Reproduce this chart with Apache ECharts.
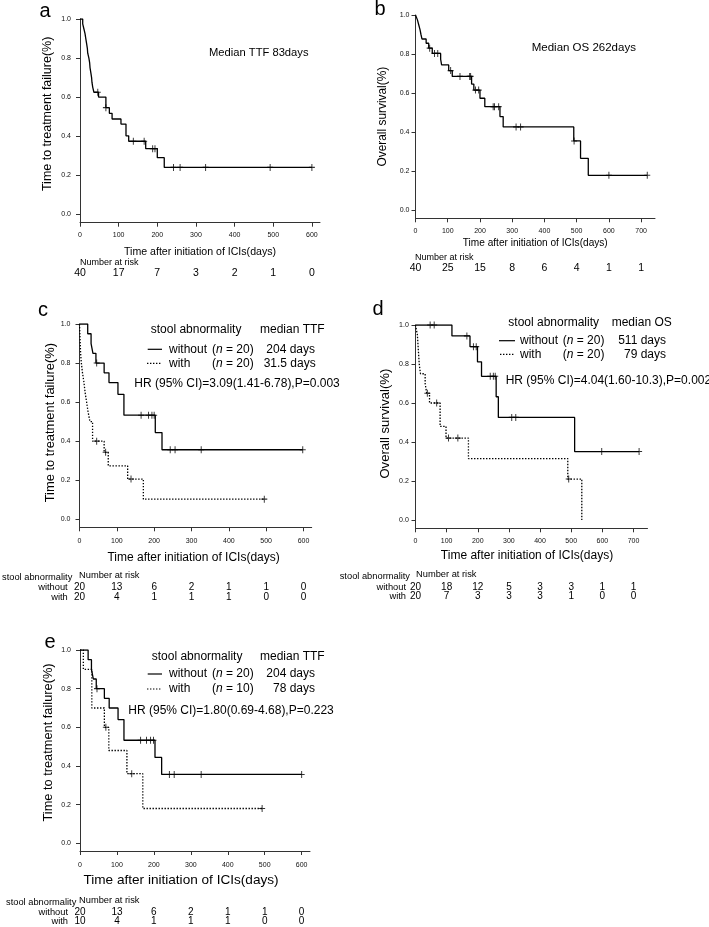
<!DOCTYPE html>
<html><head><meta charset="utf-8">
<script src="https://cdn.jsdelivr.net/npm/echarts@6/dist/echarts.min.js"></script>
<style>html,body{margin:0;padding:0;background:#fff}#c{width:709px;height:927px}</style>
</head><body><div id="c"></div><script>
// ---------- DATA ----------
const yTicks = [0, 0.2, 0.4, 0.6, 0.8, 1.0];
const xTicks600 = [0, 100, 200, 300, 400, 500, 600];
const xTicks700 = [0, 100, 200, 300, 400, 500, 600, 700];

// a: time to treatment failure (all)
const aTime = [0, 7, 10, 13, 15, 17, 19, 20, 23, 25, 26, 28, 30, 31, 33, 36, 48, 67, 76, 83, 106, 119, 126, 170, 200, 218];
const aSurv = [1, 0.975, 0.95, 0.925, 0.9, 0.875, 0.85, 0.825, 0.8, 0.775, 0.75, 0.725, 0.7, 0.675, 0.65, 0.625, 0.6, 0.546, 0.517, 0.488, 0.462, 0.402, 0.374, 0.336, 0.29, 0.24];
const aCens = [46, 67, 138, 166, 188, 194, 242, 259, 325, 492, 600];
const aRisk = [40, 17, 7, 3, 2, 1, 0];

// b: overall survival (all)
const bTime = [0, 6, 10, 14, 17, 20, 33, 41, 52, 78, 81, 103, 114, 174, 181, 200, 215, 262, 272, 491, 512, 536];
const bSurv = [1, 0.975, 0.95, 0.925, 0.9, 0.877, 0.855, 0.83, 0.803, 0.773, 0.744, 0.715, 0.685, 0.646, 0.615, 0.573, 0.53, 0.479, 0.426, 0.354, 0.265, 0.178];
const bCens = [44, 59, 69, 109, 138, 168, 171, 186, 196, 241, 245, 258, 312, 326, 492, 600, 719];
const bRisk = [40, 25, 15, 8, 6, 4, 1, 1];

// c: TTF by stool abnormality
const cWoTime = [0, 22, 31, 36, 44, 66, 79, 103, 119, 203, 221];
const cWoSurv = [1, 0.95, 0.9, 0.85, 0.8, 0.75, 0.7, 0.64, 0.533, 0.444, 0.356];
const cWoCens = [46, 165, 185, 194, 200, 243, 256, 326, 598];
const cWiTime = [0, 1, 2, 3, 5, 8, 12, 15, 19, 23, 28, 35, 66, 77, 129, 171];
const cWiSurv = [1, 0.95, 0.9, 0.85, 0.8, 0.75, 0.7, 0.65, 0.6, 0.55, 0.5, 0.4, 0.343, 0.274, 0.206, 0.103];
const cWiCens = [46, 70, 138, 495];
const cRiskWo = [20, 13, 6, 2, 1, 1, 0];
const cRiskWi = [20, 4, 1, 1, 1, 0, 0];

// d: OS by stool abnormality
const dWoTime = [0, 117, 175, 199, 212, 259, 266, 511];
const dWoSurv = [1, 0.944, 0.889, 0.811, 0.737, 0.632, 0.526, 0.351];
const dWoCens = [47, 60, 165, 186, 195, 240, 250, 256, 309, 322, 598, 718];
const dWiTime = [0, 6, 8, 10, 12, 16, 31, 36, 45, 79, 98, 170, 489, 534];
const dWiSurv = [1, 0.95, 0.9, 0.85, 0.8, 0.75, 0.7, 0.65, 0.6, 0.48, 0.42, 0.315, 0.21, 0];
const dWiCens = [38, 68, 106, 136, 492];
const dRiskWo = [20, 18, 12, 5, 3, 3, 1, 1];
const dRiskWi = [20, 7, 3, 3, 3, 1, 0, 0];

// e: TTF by stool abnormality (with n=10)
const eWoTime = [0, 22, 31, 36, 44, 66, 79, 103, 119, 203, 221];
const eWoSurv = [1, 0.95, 0.9, 0.85, 0.8, 0.75, 0.7, 0.64, 0.533, 0.444, 0.356];
const eWoCens = [46, 164, 180, 191, 199, 242, 255, 328, 600];
const eWiTime = [0, 9, 32, 66, 78, 127, 170];
const eWiSurv = [1, 0.9, 0.7, 0.6, 0.48, 0.36, 0.18];
const eWiCens = [70, 140, 493];
const eRiskWo = [20, 13, 6, 2, 1, 1, 0];
const eRiskWi = [10, 4, 1, 1, 1, 0, 0];

// ---------- BUILD ----------
const FONT = '"Liberation Sans", Arial, Helvetica, sans-serif';
const AX = '#333';

function stepData(times, surv, cens) {
  const d = times.map((t, i) => [t, surv[i]]);
  const lastT = times[times.length - 1], lastS = surv[surv.length - 1];
  const maxC = Math.max.apply(null, cens);
  if (maxC > lastT && lastS > 0) d.push([maxC, lastS]);
  return d;
}
function survAt(times, surv, t) {
  let s = surv[0];
  for (let i = 0; i < times.length; i++) if (times[i] <= t) s = surv[i];
  return s;
}

const panels = [
  { grid: {left: 80, top: 19, width: 240, height: 203.7}, yMin: -0.043, xMax: 621, xTicks: xTicks600,
    yName: 'Time to treatment failure(%)', yNameSize: 12.5, yGap: 26, yPad: [0, 0, 0, 14], yLabMargin: 9,
    xNameSize: 10.6, xGap: 23.7, xPad: [0, 0, 0, 0], xLabMargin: 9,
    riskSize: 10.5,
    curves: [{t: aTime, s: aSurv, c: aCens, dotted: false}],
    risk: [{vals: aRisk, offset: 45.3}] },
  { grid: {left: 415.5, top: 15, width: 239.5, height: 203.3}, yMin: -0.0426, xMax: 743, xTicks: xTicks700,
    yName: 'Overall survival(%)', yNameSize: 11.9, yGap: 26.5, yPad: [0, 0, 0, 0], yLabMargin: 6,
    xNameSize: 10.1, xGap: 20, xPad: [0, 0, 0, 0], xLabMargin: 9.6,
    riskSize: 10.5,
    curves: [{t: bTime, s: bSurv, c: bCens, dotted: false}],
    risk: [{vals: bRisk, offset: 44.7}] },
  { grid: {left: 79.5, top: 324, width: 232.2, height: 203.3}, yMin: -0.041, xMax: 622, xTicks: xTicks600,
    yName: 'Time to treatment failure(%)', yNameSize: 12.9, yGap: 23, yPad: [0, 0, 0, 6], yLabMargin: 9,
    xNameSize: 12, xGap: 24, xPad: [0, 4, 0, 0], xLabMargin: 10.6,
    riskSize: 10,
    curves: [{t: cWoTime, s: cWoSurv, c: cWoCens, dotted: false}, {t: cWiTime, s: cWiSurv, c: cWiCens, dotted: true}],
    risk: [{vals: cRiskWo, offset: 55}, {vals: cRiskWi, offset: 65}] },
  { grid: {left: 415.5, top: 325, width: 232, height: 203.3}, yMin: -0.0426, xMax: 745, xTicks: xTicks700,
    yName: 'Overall survival(%)', yNameSize: 13.1, yGap: 24, yPad: [0, 0, 0, 6], yLabMargin: 6.7,
    xNameSize: 12, xGap: 21.7, xPad: [0, 9, 0, 0], xLabMargin: 9.6,
    riskSize: 10,
    curves: [{t: dWoTime, s: dWoSurv, c: dWoCens, dotted: false}, {t: dWiTime, s: dWiSurv, c: dWiCens, dotted: true}],
    risk: [{vals: dRiskWo, offset: 54}, {vals: dRiskWi, offset: 63.4}] },
  { grid: {left: 80, top: 650, width: 230, height: 201}, yMin: -0.04, xMax: 622.6, xTicks: xTicks600,
    yName: 'Time to treatment failure(%)', yNameSize: 12.8, yGap: 25.5, yPad: [0, 0, 0, 16], yLabMargin: 9,
    xNameSize: 13.6, xGap: 22, xPad: [0, 28, 0, 0], xLabMargin: 10.2,
    riskSize: 10,
    curves: [{t: eWoTime, s: eWoSurv, c: eWoCens, dotted: false}, {t: eWiTime, s: eWiSurv, c: eWiCens, dotted: true}],
    risk: [{vals: eRiskWo, offset: 56.3}, {vals: eRiskWi, offset: 65.7}] }
];

const PLUS = 'path://M4.2,0H5.8V4.2H10V5.8H5.8V10H4.2V5.8H0V4.2H4.2Z';
const grid = [], xAxis = [], yAxis = [], series = [];

panels.forEach((p, gi) => {
  grid.push(Object.assign({containLabel: false}, p.grid));
  const mainX = xAxis.length;
  xAxis.push({
    gridIndex: gi, type: 'value', min: 0, max: p.xMax,
    name: 'Time after initiation of ICIs(days)', nameLocation: 'middle', nameGap: p.xGap,
    nameTextStyle: {fontFamily: FONT, fontSize: p.xNameSize, color: '#000', verticalAlign: 'top', padding: p.xPad},
    axisLine: {onZero: false, lineStyle: {color: AX, width: 1}},
    axisTick: {customValues: p.xTicks, length: 4, lineStyle: {color: AX, width: 1}},
    axisLabel: {customValues: p.xTicks, fontFamily: FONT, fontSize: 7, color: '#111', margin: p.xLabMargin},
    splitLine: {show: false}
  });
  p.risk.forEach(r => {
    xAxis.push({
      gridIndex: gi, type: 'value', min: 0, max: p.xMax, position: 'bottom', offset: r.offset,
      axisLine: {show: false, onZero: false}, axisTick: {show: false}, splitLine: {show: false},
      axisLabel: {customValues: p.xTicks, margin: 0, fontFamily: FONT, fontSize: p.riskSize, color: '#000', verticalAlign: 'top',
        formatter: v => String(r.vals[p.xTicks.indexOf(v)])}
    });
  });
  yAxis.push({
    gridIndex: gi, type: 'value', min: p.yMin, max: 1.0,
    name: p.yName, nameLocation: 'middle', nameGap: p.yGap, nameRotate: 90,
    nameTextStyle: {fontFamily: FONT, fontSize: p.yNameSize, color: '#000', padding: p.yPad},
    axisLine: {onZero: false, lineStyle: {color: AX, width: 1}},
    axisTick: {customValues: yTicks, length: 4, lineStyle: {color: AX, width: 1}},
    axisLabel: {customValues: yTicks, fontFamily: FONT, fontSize: 7, color: '#111', margin: p.yLabMargin,
      formatter: v => v.toFixed(1)},
    splitLine: {show: false}
  });
  p.curves.forEach(cv => {
    series.push({
      type: 'line', xAxisIndex: mainX, yAxisIndex: gi, step: 'end', showSymbol: false, silent: true,
      data: stepData(cv.t, cv.s, cv.c),
      lineStyle: {color: '#000', width: cv.dotted ? 1.3 : 1.3, type: cv.dotted ? [1.4, 1.6] : 'solid'},
      z: 3
    });
    series.push({
      type: 'scatter', xAxisIndex: mainX, yAxisIndex: gi, symbol: PLUS, symbolSize: [6, 7], silent: true,
      itemStyle: {color: '#000'},
      data: cv.c.map(t => [t, survAt(cv.t, cv.s, t)]), z: 4
    });
  });
});

// ---------- TEXT / LEGENDS ----------
const G = [];
function txt(x, y, text, size, align, extra) {
  const st = Object.assign({x: x, y: y, text: text, fontFamily: FONT, fontSize: size, fill: '#000',
    align: align || 'left', verticalAlign: 'middle', textAlign: align || 'left', textVerticalAlign: 'middle'}, extra || {});
  G.push({type: 'text', silent: true, style: st});
}
function nTxt(x, y, n) {
  txt(x, y, '({i|n} = ' + n + ')', 12, 'left', {rich: {i: {fontStyle: 'italic', fontSize: 12, fontFamily: FONT}}});
}
function legLine(x1, x2, y, dotted) {
  G.push({type: 'line', silent: true, shape: {x1: x1, y1: y, x2: x2, y2: y},
    style: {stroke: '#000', lineWidth: 1.2, lineDash: dotted ? [1.4, 1.6] : null}});
}
// panel letters
txt(45, 11, 'a', 20, 'center'); txt(380, 9, 'b', 20, 'center'); txt(43, 310, 'c', 20, 'center');
txt(378, 309, 'd', 20, 'center'); txt(50, 642, 'e', 20, 'center');
// a
txt(209, 53, 'Median TTF 83days', 11.2);
txt(80, 263, 'Number at risk', 9);
// b
txt(531.7, 47.7, 'Median OS 262days', 11.5);
txt(415, 257.3, 'Number at risk', 9);
// c legend
txt(150.7, 330, 'stool abnormality', 12); txt(260, 330, 'median TTF', 12);
legLine(147.7, 162, 349.3, false); txt(169, 349.3, 'without', 12); nTxt(212, 349.3, 20); txt(315, 349.3, '204 days', 12, 'right');
legLine(147, 162, 363.3, true); txt(169, 363.3, 'with', 12); nTxt(212, 363.3, 20); txt(315.7, 363.3, '31.5 days', 12, 'right');
txt(134.3, 384, 'HR (95% CI)=3.09(1.41-6.78),P=0.003', 12);
txt(2, 577.3, 'stool abnormality', 9.3); txt(79, 575, 'Number at risk', 9.3);
txt(67.7, 587.3, 'without', 9.3, 'right'); txt(67.7, 597.3, 'with', 9.3, 'right');
// d legend
txt(508.3, 322.7, 'stool abnormality', 12); txt(611.7, 322.7, 'median OS', 12);
legLine(499, 515, 340.7, false); txt(520, 340.7, 'without', 12); nTxt(562.7, 340.7, 20); txt(666, 340.7, '511 days', 12, 'right');
legLine(500, 515, 354.3, true); txt(520, 354.3, 'with', 12); nTxt(562.7, 354.3, 20); txt(666, 354.3, '79 days', 12, 'right');
txt(505.7, 381, 'HR (95% CI)=4.04(1.60-10.3),P=0.002', 12);
txt(410, 576.7, 'stool abnormality', 9.3, 'right'); txt(416, 574, 'Number at risk', 9.3);
txt(406, 587.3, 'without', 9.3, 'right'); txt(406, 596.7, 'with', 9.3, 'right');
// e legend
txt(151.7, 656.7, 'stool abnormality', 12); txt(260, 656.7, 'median TTF', 12);
legLine(147.7, 162, 674, false); txt(169, 674, 'without', 12); nTxt(212, 674, 20); txt(315, 674, '204 days', 12, 'right');
legLine(147, 162, 689, true); txt(169, 689, 'with', 12); nTxt(212, 689, 10); txt(315, 689, '78 days', 12, 'right');
txt(128.3, 710.7, 'HR (95% CI)=1.80(0.69-4.68),P=0.223', 12);
txt(6, 902.7, 'stool abnormality', 9.3); txt(79, 900.7, 'Number at risk', 9.3);
txt(68, 912.3, 'without', 9.3, 'right'); txt(68, 921.7, 'with', 9.3, 'right');

const chart = echarts.init(document.getElementById('c'), null, {renderer: 'canvas'});
chart.setOption({
  backgroundColor: '#fff', animation: false,
  textStyle: {fontFamily: FONT},
  grid: grid, xAxis: xAxis, yAxis: yAxis, series: series, graphic: G
});
</script></body></html>
